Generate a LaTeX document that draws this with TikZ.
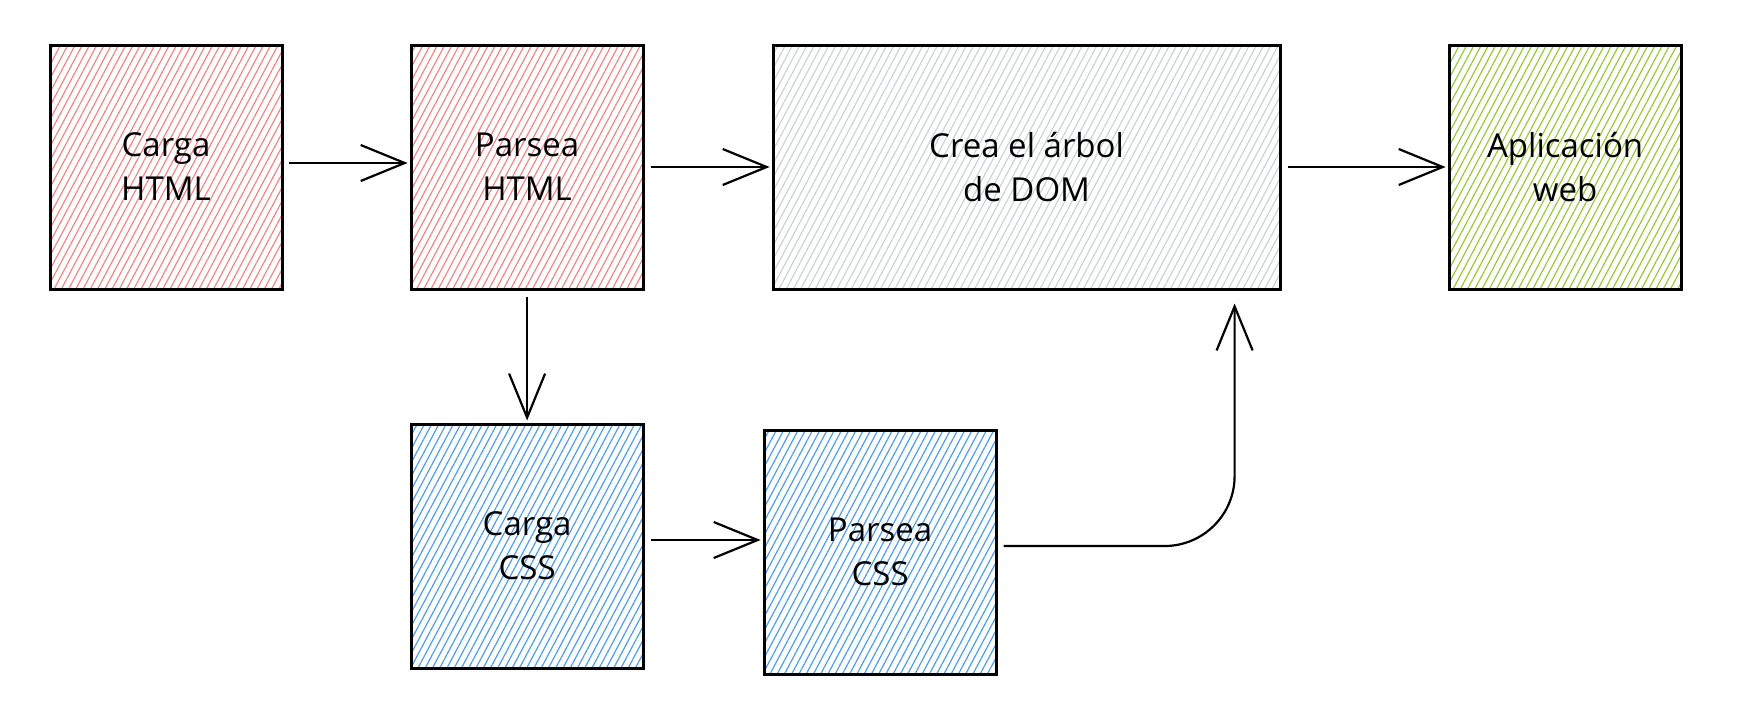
\documentclass[tikz,border=0pt]{standalone}
\usepackage{fontspec}
\setmainfont{Open Sans}
\usepackage{xcolor}
\usetikzlibrary{arrows.meta,positioning,patterns.meta}
\definecolor{hatchred}{HTML}{EF8686}
\definecolor{hatchgray}{HTML}{CDD2D8}
\definecolor{hatchgreen}{HTML}{98C93C}
\definecolor{hatchblue}{HTML}{4F9DE6}
\begin{document}
\begin{tikzpicture}[x=0.5pt,y=-0.5pt, node distance=63.5pt and 63.5pt, every node/.style={font=\fontsize{16.5}{22}\selectfont}, box/.style={draw,line width=1.5pt,align=center,minimum width=116pt,minimum height=122pt,inner sep=0pt}, hatch/.style={pattern={Lines[angle=62,distance=3.2pt,line width=0.6pt]},pattern color=#1}, arr/.style={-{Straight Barb[length=22pt,width=18pt,line width=1.1pt]},line width=1.1pt,shorten <=3pt,shorten >=1pt}]
\useasboundingbox (0,0) rectangle (1738,718);
\node[box,hatch=hatchred] (cargaHTML) at (166,167) {Carga\\HTML};
\node[box,hatch=hatchred,right=of cargaHTML] (parseaHTML) {Parsea\\HTML};
\node[box,hatch=hatchgray,right=of parseaHTML,minimum width=253.5pt] (dom) {Crea el árbol\\de DOM};
\node[box,hatch=hatchgreen,right=83pt of dom] (app) {Aplicación\\web};
\node[box,hatch=hatchblue,below=of parseaHTML,yshift=-2.5pt] (cargaCSS) {Carga\\CSS};
\node[box,hatch=hatchblue,right=59pt of cargaCSS,yshift=-3pt] (parseaCSS) {Parsea\\CSS};
\coordinate (domin) at ([xshift=-23.5pt,yshift=-6.5pt]dom.south east);
\draw[arr] ([yshift=2pt]cargaHTML.east)--([yshift=2pt]cargaHTML.east -| parseaHTML.west);
\draw[arr] (parseaHTML)--(dom);
\draw[arr] (dom)--(app);
\draw[arr] (parseaHTML)--(cargaCSS);
\draw[arr] ([yshift=3pt]cargaCSS.east)--([yshift=3pt]cargaCSS.east -| parseaCSS.west);
\draw[arr,shorten >=0pt,rounded corners=35pt] ([yshift=3pt]parseaCSS.east) -| (domin);
\end{tikzpicture}
\end{document}
